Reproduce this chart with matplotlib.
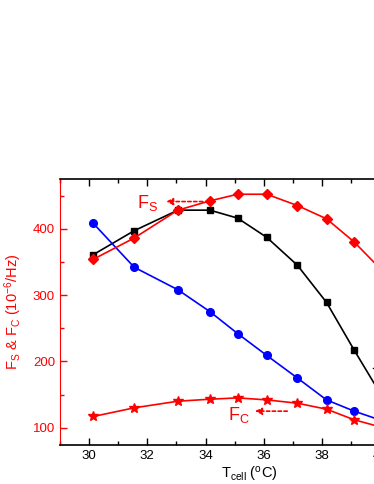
import numpy as np
import matplotlib
matplotlib.use('Agg')
from matplotlib import pyplot as plt
from matplotlib.ticker import MultipleLocator

plt.rcParams['font.family'] = ['Liberation Sans', 'DejaVu Sans']
plt.rcParams['mathtext.fontset'] = 'custom'
plt.rcParams['mathtext.rm'] = 'Liberation Sans'
plt.rcParams['mathtext.it'] = 'Liberation Sans'

## data
t_cell = [30.15, 31.55, 33.05, 34.15, 35.1, 36.1, 37.15, 38.15, 39.1, 40.1]
fs_red = [354, 386, 428, 442, 452, 452, 435, 415, 380, 335]
black_sq = [361, 397, 428, 428, 416, 387, 345, 289, 217, 144]
blue_circ = [408, 342, 308, 275, 242, 209, 175, 142, 125, 110]
fc_red = [117, 130, 140, 143, 145, 142, 137, 128, 112, 100]

fig = plt.figure(figsize=(3.74, 4.84), dpi=100)
# axes runs past the right edge of the picture, like the cropped original
ax = fig.add_axes([0.160, 0.0806, 1.013, 0.5496])

ax.plot(t_cell, black_sq, color='black', marker='s', markersize=5, lw=1.2)
ax.plot(t_cell, blue_circ, color='blue', marker='o', markersize=5.5, lw=1.2)
ax.plot(t_cell, fs_red, color='red', marker='D', markersize=5, lw=1.2)
ax.plot(t_cell, fc_red, color='red', marker='*', markersize=7, lw=1.2)

ax.set_xlim(29.0, 42.0)
ax.set_ylim(74, 475)
ax.xaxis.set_major_locator(MultipleLocator(2))
ax.xaxis.set_minor_locator(MultipleLocator(1))
ax.yaxis.set_major_locator(MultipleLocator(100))
ax.yaxis.set_minor_locator(MultipleLocator(50))

ax.tick_params(axis='x', which='both', direction='in', top=True, labelsize=9.5, colors='black')
ax.tick_params(axis='x', which='major', length=5, width=1)
ax.tick_params(axis='x', which='minor', length=3, width=1)
ax.tick_params(axis='y', which='both', direction='in', colors='red', labelsize=9.5)
ax.tick_params(axis='y', which='major', length=5, width=1)
ax.tick_params(axis='y', which='minor', length=3, width=1)
ax.spines['left'].set_color('red')
ax.spines['top'].set_linewidth(1.2)
ax.spines['bottom'].set_linewidth(1.2)

ax.set_ylabel(r'F$_S$ & F$_C$ (10$^{-6}$/Hz)', color='red', fontsize=10.5, labelpad=6)
ax.set_xlabel(r'T$_{cell}$ ($^o$C)', fontsize=10.5, labelpad=2)

# annotations with dashed arrows
ax.annotate('', xy=(32.55, 441), xytext=(34.0, 441),
            arrowprops=dict(arrowstyle='-|>', color='red', ls=(0, (2, 1.5)), lw=1.2))
ax.text(32.0, 439, r'F$_S$', color='red', fontsize=13, ha='center', va='center')
ax.annotate('', xy=(35.6, 125), xytext=(36.9, 125),
            arrowprops=dict(arrowstyle='-|>', color='red', ls=(0, (2, 1.5)), lw=1.2))
ax.text(35.15, 119, r'F$_C$', color='red', fontsize=13, ha='center', va='center')
ax.plot([39.75, 39.85], [190, 190], color='black', lw=1)

fig.savefig('out.png', dpi=100)
